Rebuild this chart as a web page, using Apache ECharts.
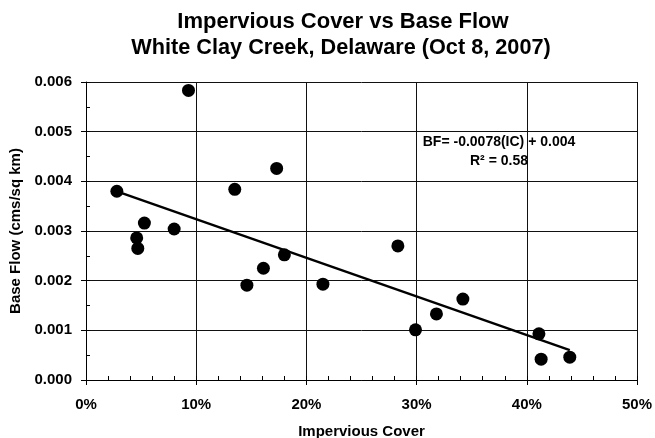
<!DOCTYPE html>
<html><head><meta charset="utf-8">
<script src="https://cdn.jsdelivr.net/npm/echarts@6/dist/echarts.min.js"></script>
<style>html,body{margin:0;padding:0;background:#fff}#c{width:655px;height:438px}</style>
</head><body><div id="c"></div>
<script>
const titleLines = ['Impervious Cover vs Base Flow', 'White Clay Creek, Delaware (Oct 8, 2007)'];
const xName = 'Impervious Cover';
const yName = 'Base Flow (cms/sq km)';
const equationText = 'BF= -0.0078(IC) + 0.004';
const r2Text = 'R\u00b2 = 0.58';
// Impervious cover in percent
const impervious = [2.8, 9.3, 17.3, 13.5, 5.3, 8.0, 4.6, 4.7, 14.6, 16.1, 18.0, 21.5, 28.3, 29.9, 31.8, 34.2, 41.1, 41.3, 43.9];
const baseFlow = [0.00380, 0.00583, 0.00426, 0.00384, 0.00316, 0.00304, 0.00286, 0.00265, 0.00191, 0.00225, 0.00252, 0.00193, 0.00270, 0.00101, 0.00133, 0.00163, 0.00093, 0.00042, 0.00046];
const trendX = [2.8, 43.9];
const trendY = [0.00380, 0.00060];

const FONT = '"Liberation Sans", Arial, sans-serif';
const chart = echarts.init(document.getElementById('c'));
const gridBox = {left: 86, right: 18, top: 82, bottom: 58, containLabel: false, outerBoundsMode: 'none'};
const common = {min: 0, max: 50, interval: 10};
const commonY = {min: 0, max: 0.006, interval: 0.001};
chart.setOption({
  animation: false,
  backgroundColor: '#fff',
  grid: [Object.assign({}, gridBox), Object.assign({}, gridBox)],
  xAxis: [
    Object.assign({type: 'value', gridIndex: 0, position: 'bottom',
      name: xName, nameLocation: 'middle', nameGap: 44,
      nameTextStyle: {fontFamily: FONT, fontWeight: 'bold', fontSize: 15, color: '#000'},
      axisLine: {show: true, onZero: false, lineStyle: {color: '#000', width: 1}},
      axisTick: {show: true, inside: false, length: 5, lineStyle: {color: '#000'}},
      axisLabel: {formatter: '{value}%', margin: 17, fontFamily: FONT, fontWeight: 'bold', fontSize: 15, color: '#000'},
      splitLine: {show: true, lineStyle: {color: '#111', width: 1}}
    }, common),
    Object.assign({type: 'value', gridIndex: 1, position: 'bottom',
      axisLine: {show: false, onZero: false},
      axisTick: {show: true, inside: true, length: 4, lineStyle: {color: '#000'}},
      minorTick: {show: true, splitNumber: 5, length: 4, lineStyle: {color: '#000'}},
      axisLabel: {show: false}, splitLine: {show: false}
    }, common)
  ],
  yAxis: [
    Object.assign({type: 'value', gridIndex: 0, position: 'left',
      name: yName, nameLocation: 'middle', nameGap: 57,
      nameTextStyle: {fontFamily: FONT, fontWeight: 'bold', fontSize: 15, color: '#000'},
      axisLine: {show: true, onZero: false, lineStyle: {color: '#000', width: 1}},
      axisTick: {show: true, inside: false, length: 5, lineStyle: {color: '#000'}},
      axisLabel: {formatter: v => v.toFixed(3), margin: 14, fontFamily: FONT, fontWeight: 'bold', fontSize: 15, color: '#000'},
      splitLine: {show: true, lineStyle: {color: '#111', width: 1}}
    }, commonY),
    Object.assign({type: 'value', gridIndex: 1, position: 'left',
      axisLine: {show: false, onZero: false},
      axisTick: {show: true, inside: true, length: 4, lineStyle: {color: '#000'}},
      minorTick: {show: true, splitNumber: 2, length: 4, lineStyle: {color: '#000'}},
      axisLabel: {show: false}, splitLine: {show: false}
    }, commonY)
  ],
  series: [
    {type: 'line', xAxisIndex: 0, yAxisIndex: 0, data: trendX.map((x, i) => [x, trendY[i]]),
      showSymbol: false, lineStyle: {color: '#000', width: 2.4}, z: 3},
    {type: 'scatter', xAxisIndex: 0, yAxisIndex: 0, data: impervious.map((x, i) => [x, baseFlow[i]]),
      symbol: 'circle', symbolSize: 13, itemStyle: {color: '#000', opacity: 1}, z: 4}
  ],
  graphic: [
    {type: 'text', x: 343, y: 22, style: {text: titleLines[0], font: 'bold 22px ' + FONT, fill: '#000', textAlign: 'center', textVerticalAlign: 'middle'}},
    {type: 'text', x: 341, y: 48, style: {text: titleLines[1], font: 'bold 21.7px ' + FONT, fill: '#000', textAlign: 'center', textVerticalAlign: 'middle'}},
    {type: 'text', x: 499, y: 142, z: 10, style: {text: equationText, font: 'bold 14px ' + FONT, fill: '#000', textAlign: 'center', textVerticalAlign: 'middle'}},
    {type: 'text', x: 499, y: 161, z: 10, style: {text: r2Text, font: 'bold 14px ' + FONT, fill: '#000', textAlign: 'center', textVerticalAlign: 'middle'}}
  ]
});
</script></body></html>
